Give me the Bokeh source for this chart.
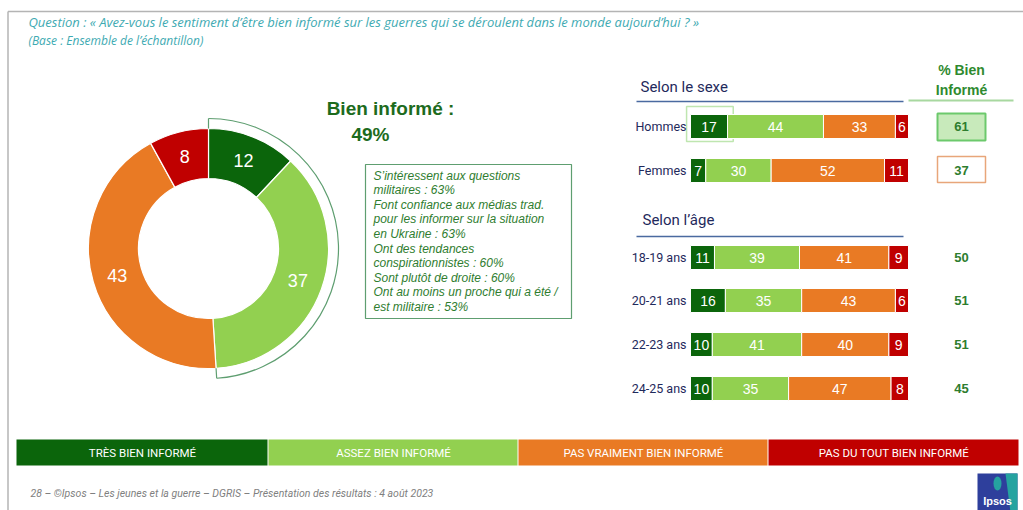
import math
from bokeh.plotting import figure
from bokeh.models import Range1d, ColumnDataSource
from bokeh.core.properties import value
from bokeh.embed import file_html
from bokeh.resources import INLINE

# ---------------- data ----------------
question = "Question : « Avez-vous le sentiment d’être bien informé sur les guerres qui se déroulent dans le monde aujourd’hui ? »"
base_text = "(Base : Ensemble de l’échantillon)"
levels = ["TRÈS BIEN INFORMÉ", "ASSEZ BIEN INFORMÉ", "PAS VRAIMENT BIEN INFORMÉ", "PAS DU TOUT BIEN INFORMÉ"]
colors = ["#0b650b", "#92d050", "#e97a24", "#c00000"]
total_values = [12, 37, 43, 8]
bien_informe_label = "Bien informé :"
bien_informe_total = "49%"
profile_lines = [
    "S’intéressent aux questions",
    "militaires : 63%",
    "Font confiance aux médias trad.",
    "pour les informer sur la situation",
    "en Ukraine : 63%",
    "Ont des tendances",
    "conspirationnistes : 60%",
    "Sont plutôt de droite : 60%",
    "Ont au moins un proche qui a été /",
    "est militaire : 53%",
]
sex_title = "Selon le sexe"
age_title = "Selon l’âge"
bien_title = ["% Bien", "Informé"]
sex_groups = ["Hommes", "Femmes"]
sex_values = [[17, 44, 33, 6], [7, 30, 52, 11]]
sex_bien = [61, 37]
age_groups = ["18-19 ans", "20-21 ans", "22-23 ans", "24-25 ans"]
age_values = [[11, 39, 41, 9], [16, 35, 43, 6], [10, 41, 40, 9], [10, 35, 47, 8]]
age_bien = [50, 51, 51, 45]
footer = "28 –   ©Ipsos – Les jeunes et la guerre – DGRIS – Présentation des résultats : 4 août 2023"

# ---------------- layout ----------------
W, H = 1023, 510
def px(X):
    return X
def py(Y):
    return H - Y

NARROW = value("Roboto")
SANS = value("Liberation Sans")
NAVY = "#1f2a5c"
GREEN_TXT = "#2e7d2e"

p = figure(width=W, height=H, x_range=Range1d(0, W), y_range=Range1d(0, H),
           output_backend="svg", toolbar_location=None, min_border=0)
p.axis.visible = False
p.grid.visible = False
p.outline_line_color = None
p.background_fill_color = "white"
p.border_fill_color = "white"

# bar scale: 0% at page X=690, 100% at page X=908
BX0, BX1 = 690, 908
k = (BX1 - BX0) / 100.0
p.extra_x_ranges = {"pct": Range1d((0 - BX0) / k, (W - BX0) / k)}

# slide frame
p.segment(x0=[px(7.5), px(7.5)], y0=[py(11), py(11)], x1=[px(1030), px(7.5)], y1=[py(11), py(520)],
          line_color="#b4b4b4", line_width=1.5)

# header texts
p.text(x=[px(28)], y=[py(21)], text=[question], text_font=value("Open Sans"), text_font_style="italic",
       text_font_size="13px", text_color="#3eaab2", text_baseline="middle")
p.text(x=[px(28)], y=[py(40)], text=[base_text], text_font=value("Open Sans"), text_font_style="italic",
       text_font_size="12px", text_color="#3eaab2", text_baseline="middle")

# ---------------- donut ----------------
cx, cy = px(208), py(248)
r_in, r_out = 70, 120
cum = 0
starts, ends, mids = [], [], []
for v in total_values:
    a0 = math.pi / 2 - 2 * math.pi * cum / 100
    a1 = math.pi / 2 - 2 * math.pi * (cum + v) / 100
    starts.append(a0); ends.append(a1); mids.append((a0 + a1) / 2)
    cum += v
p.annular_wedge(x=cx, y=cy, inner_radius=r_in, outer_radius=r_out, start_angle=starts, end_angle=ends,
                direction="clock", fill_color=colors, line_color="white", line_width=1.2)
rm = (r_in + r_out) / 2
p.text(x=[cx + rm * math.cos(a) for a in mids], y=[cy + rm * math.sin(a) for a in mids],
       text=[str(v) for v in total_values], text_font=SANS, text_font_size="18px", text_color="white",
       text_align="center", text_baseline="middle")

# outline around the "bien informé" part
frac = (total_values[0] + total_values[1]) / 100
a_s = math.pi / 2
a_e = math.pi / 2 - 2 * math.pi * frac
r_ol = 130
p.arc(x=cx, y=cy, radius=r_ol, start_angle=a_s, end_angle=a_e, direction="clock",
      line_color="#5e9e70", line_width=1.2)
p.segment(x0=[cx + r_out * math.cos(a_s), cx + r_out * math.cos(a_e)],
          y0=[cy + r_out * math.sin(a_s), cy + r_out * math.sin(a_e)],
          x1=[cx + r_ol * math.cos(a_s), cx + r_ol * math.cos(a_e)],
          y1=[cy + r_ol * math.sin(a_s), cy + r_ol * math.sin(a_e)],
          line_color="#5e9e70", line_width=1.2)

# bien informé headline
p.text(x=[px(390)], y=[py(108)], text=[bien_informe_label], text_font=SANS, text_font_style="bold",
       text_font_size="19px", text_color="#1d6b1d", text_align="center", text_baseline="middle")
p.text(x=[px(370)], y=[py(134)], text=[bien_informe_total], text_font=SANS, text_font_style="bold",
       text_font_size="19px", text_color="#1d6b1d", text_align="center", text_baseline="middle")

# profile box
p.quad(left=[px(365)], right=[px(571)], top=[py(164)], bottom=[py(318)], fill_color="white",
       line_color="#5e9e70", line_width=1.2)
p.text(x=[px(373)] * len(profile_lines), y=[py(175 + 14.6 * i) for i in range(len(profile_lines))],
       text=profile_lines, text_font=SANS, text_font_style="italic", text_font_size="12px",
       text_color="#2f7d2f", text_baseline="middle")

# ---------------- bars ----------------
row_y = [py(126), py(170), py(257), py(300), py(344), py(388)]
groups = sex_groups + age_groups
values = sex_values + age_values
bien = sex_bien + age_bien

# section titles and rules
p.text(x=[px(640), px(642)], y=[py(86), py(219)], text=[sex_title, age_title], text_font=NARROW,
       text_font_size="15px", text_color=NAVY, text_baseline="middle")
p.segment(x0=[px(636), px(636)], y0=[py(101), py(236)], x1=[px(903), px(903)], y1=[py(101), py(236)],
          line_color="#4a6aa0", line_width=1.5)
p.text(x=[px(961), px(961)], y=[py(69), py(89)], text=bien_title, text_font=SANS, text_font_style="bold",
       text_font_size="14px", text_color="#2f8a2f", text_align="center", text_baseline="middle")
p.segment(x0=[px(908)], y0=[py(100)], x1=[px(1013)], y1=[py(100)], line_color="#a8d8a0", line_width=2)

# highlight box around Hommes "très bien informé"
p.quad(left=[-1.8], right=[sex_values[0][0] + 2.6], top=[py(106)], bottom=[py(141)], fill_color=None,
       line_color="#bfe6b0", line_width=1.5, x_range_name="pct")

for g, yv, vals in zip(groups, row_y, values):
    lefts, rights = [], []
    c = 0
    for v in vals:
        lefts.append(c); rights.append(c + v); c += v
    src = ColumnDataSource(dict(y=[yv] * 4, left=lefts, right=rights, color=colors,
                                mid=[(l + r) / 2 for l, r in zip(lefts, rights)],
                                label=[str(v) for v in vals]))
    p.hbar(y="y", left="left", right="right", height=24, fill_color="color", line_color="white",
           line_width=1, source=src, x_range_name="pct")
    p.text(x="mid", y="y", text="label", text_font=SANS, text_font_size="14px", text_color="white",
           text_align="center", text_baseline="middle", source=src, x_range_name="pct")

p.text(x=[px(686)] * len(groups), y=row_y, text=groups, text_font=NARROW, text_font_size="12.5px",
       text_color=NAVY, text_align="right", text_baseline="middle")

# % bien informé column
p.quad(left=[px(937), px(937)], right=[px(985), px(985)], top=[py(113), py(156)], bottom=[py(140), py(182)],
       fill_color=["#c8eabb", "white"], line_color=["#6cc96c", "#e8a67a"], line_width=[2, 1.5])
p.text(x=[px(961)] * len(bien), y=row_y, text=[str(b) for b in bien], text_font=SANS,
       text_font_style="bold", text_font_size="13px", text_color=GREEN_TXT, text_align="center",
       text_baseline="middle")

# ---------------- legend band ----------------
lx = [16, 268, 518, 768, 1019]
p.quad(left=[px(lx[i]) for i in range(4)], right=[px(lx[i + 1] - 1) for i in range(4)],
       top=[py(439)] * 4, bottom=[py(465)] * 4, fill_color=colors, line_color=None)
p.text(x=[px((lx[i] + lx[i + 1]) / 2) for i in range(4)], y=[py(452)] * 4, text=levels, text_font=NARROW,
       text_font_size="11.5px", text_color="white", text_align="center", text_baseline="middle")

# ---------------- footer ----------------
p.text(x=[px(30)], y=[py(493)], text=[footer], text_font=NARROW, text_font_style="italic",
       text_font_size="10.5px", text_color="#808080", text_baseline="middle")
p.quad(left=[px(977)], right=[px(1017)], top=[py(473)], bottom=[py(512)], fill_color="#2e3f9c", line_color=None)
p.patch(x=[px(1005), px(1017), px(1017), px(1010)], y=[py(473), py(473), py(512), py(512)],
        fill_color="#25a3a0", line_color=None)
p.ellipse(x=[px(997)], y=[py(483)], width=8, height=14, fill_color="#25a3a0", line_color=None)
p.text(x=[px(997)], y=[py(500)], text=["Ipsos"], text_font=SANS, text_font_style="bold",
       text_font_size="11px", text_color="white", text_align="center", text_baseline="middle")

open("out.html", "w").write(file_html(p, INLINE))
